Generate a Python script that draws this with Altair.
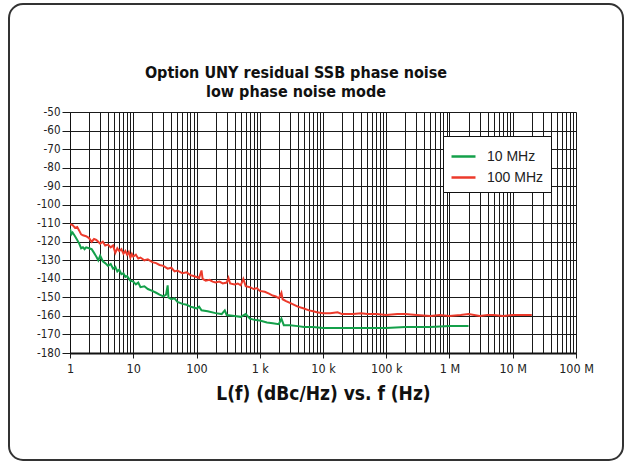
import altair as alt
import pandas as pd

# ---- data ----
red_freq = [1, 1.1, 1.2, 1.3, 1.4, 1.5, 1.6, 1.8, 2.0, 2.2, 2.4, 2.6, 2.8, 3.0, 3.3, 3.6, 4.0, 4.4, 4.8,
            5.2, 5.6, 6.0, 6.5, 7.0, 7.5, 8.0, 8.5, 9.0, 9.5, 10, 11, 12, 13, 15, 17, 20, 23, 26, 30, 35,
            40, 45, 50, 60, 70, 80, 90, 100, 110, 120, 125, 140, 160, 180, 200, 230, 260, 300, 320, 340,
            400, 450, 500, 550, 600, 700, 800, 900, 1000, 1200, 1400, 1600, 1800, 2000, 2200, 2300, 2600,
            3000, 3500, 4000, 5000, 6000, 7000, 8000, 10000, 13000, 17000, 20000, 30000, 40000, 50000,
            70000, 100000, 150000, 200000, 300000, 500000, 700000, 1e6, 1.5e6, 2e6, 3e6, 4e6, 5e6, 7e6,
            1e7, 1.5e7, 2e7]
red_level = [-110.5, -111, -112.5, -112, -114, -116, -116.5, -117, -118, -120, -118.5, -119, -120, -121,
             -120, -122, -121.5, -123, -122, -126, -123.5, -125, -124, -126.5, -125, -127, -125.5, -128.5,
             -126.5, -128, -127, -129, -128.5, -130, -129.5, -131, -131.5, -132.5, -133, -134.5, -134,
             -136, -135.5, -137, -136.5, -138, -138.5, -139, -139.5, -135.5, -140, -141, -140.5, -141.5,
             -142, -141.5, -142.5, -142, -139.5, -142.5, -143, -142.5, -143.5, -140, -144, -144.5, -145.5,
             -145, -146.5, -147, -148, -149, -149.5, -150.5, -147.5, -151, -152, -153, -154, -155, -156,
             -157, -157.5, -158, -158.5, -158.5, -158, -159, -159, -158.5, -159, -159, -159.5, -159, -159,
             -159.5, -160, -159.5, -160, -159.5, -159, -160, -159.5, -159.5, -160, -159.5, -159.5, -159.5]

green_freq = [1, 1.05, 1.1, 1.2, 1.3, 1.4, 1.5, 1.6, 1.7, 1.8, 2.0, 2.2, 2.4, 2.6, 2.8, 3.0, 3.3, 3.6,
              4.0, 4.4, 4.8, 5.2, 5.6, 6.0, 6.5, 7.0, 7.5, 8.0, 9.0, 10, 11, 12, 13, 15, 17, 20, 23, 26,
              30, 33, 35, 36, 40, 45, 50, 60, 70, 80, 90, 100, 110, 120, 150, 200, 250, 280, 300, 400,
              500, 600, 700, 800, 1000, 1300, 1600, 2000, 2200, 2400, 3000, 4000, 5000, 7000, 10000,
              20000, 50000, 100000, 200000, 500000, 1e6, 2e6]
green_level = [-113, -116, -115, -117, -119, -121, -123.5, -123, -124, -123, -123.5, -124, -126, -128,
               -130, -127.5, -130.5, -131.5, -133, -132, -134.5, -133.5, -136, -135, -137.5, -137, -139,
               -138.5, -141, -141.5, -143, -142, -144.5, -144, -145.5, -146.5, -147.5, -148.5, -149.5,
               -148.5, -143.5, -150, -151, -150.5, -152.5, -153.5, -154, -155, -155.5, -156, -155,
               -157, -157.5, -158.5, -159, -157, -159.5, -160, -160.5, -159, -161.5, -162, -162.5,
               -163.5, -164, -164.5, -161.5, -165, -165, -165.5, -166, -166, -166.5, -166.5, -166.5,
               -166.5, -166, -166, -165.5, -165.5]

series_names = ["10 MHz", "100 MHz"]
series_colors = ["#14a04a", "#ec3a2b"]

x_tick_values = [m * 10 ** d for d in range(0, 8) for m in range(1, 10)] + [10 ** 8]
decades = [10 ** d for d in range(0, 9)]
y_tick_values = list(range(-180, -49, 10))

df = pd.concat([
    pd.DataFrame({"freq": green_freq, "level": green_level, "series": series_names[0]}),
    pd.DataFrame({"freq": red_freq, "level": red_level, "series": series_names[1]}),
])

NARROW = "DejaVu Sans Condensed, sans-serif"
REG = "Liberation Sans, Arial, sans-serif"

dec_list = "[" + ",".join(str(d) for d in decades) + "]"
is_dec = f"indexof({dec_list}, datum.value) >= 0"
label_expr = (f"{is_dec} ? (datum.value >= 1e6 ? (datum.value/1e6) + ' M' : "
              f"datum.value >= 1e3 ? (datum.value/1e3) + ' k' : datum.value + '') : ''")

W, H = 506, 241

frame = alt.Chart(pd.DataFrame({"a": [0]})).mark_rect(
    fill="transparent", stroke="#333333", strokeWidth=2, cornerRadius=14
).encode(
    x=alt.value(-61), x2=alt.value(553), y=alt.value(-108), y2=alt.value(348)
)

lines = alt.Chart(df).mark_line(strokeWidth=2, clip=True).encode(
    x=alt.X("freq:Q",
            scale=alt.Scale(type="log", domain=[1, 1e8], nice=False),
            axis=alt.Axis(values=x_tick_values, labelExpr=label_expr, grid=True,
                          gridColor="#1a1a1a", gridWidth=1, gridOpacity=1,
                          tickColor="#1a1a1a", tickSize=5,
                          tickOpacity={"condition": {"test": is_dec, "value": 1}, "value": 0},
                          domainColor="#111111", domainWidth=2,
                          labelFont=NARROW, labelFontSize=12.5, labelColor="#222222",
                          labelOverlap=False, labelPadding=4, labelBound=False, labelFlush=False,
                          title="L(f) (dBc/Hz) vs. f (Hz)", titleFont=NARROW, titleFontSize=19,
                          titleFontWeight="bold", titleColor="#111111", titlePadding=10)),
    y=alt.Y("level:Q",
            scale=alt.Scale(domain=[-180, -50], nice=False, zero=False),
            axis=alt.Axis(values=y_tick_values, labelExpr="datum.value + ''", grid=True,
                          gridColor="#1a1a1a", gridWidth=1,
                          gridOpacity=1, tickColor="#1a1a1a", tickSize=8,
                          domainColor="#111111", domainWidth=1,
                          labelFont=NARROW, labelFontSize=11.5, labelColor="#222222",
                          labelPadding=2, title=None)),
    color=alt.Color("series:N",
                    scale=alt.Scale(domain=series_names, range=series_colors),
                    legend=alt.Legend(title=None, orient="none", legendX=373, legendY=24,
                                      symbolType="stroke", symbolSize=576, symbolStrokeWidth=2.5,
                                      labelFont=REG, labelFontSize=14, labelColor="#222222",
                                      fillColor="white", strokeColor="#111111", padding=7,
                                      rowPadding=-5, labelOffset=10)),
)

chart = alt.layer(frame, lines).properties(
    width=W, height=H,
    autosize=alt.AutoSizeParams(type="none"),
    padding={"left": 70, "top": 112, "right": 50, "bottom": 109},
    title=alt.TitleParams(["Option UNY residual SSB phase noise", "low phase noise mode"],
                          font=NARROW, fontSize=16, fontWeight="bold", color="#111111",
                          anchor="middle", frame="group", dx=-27, offset=-97, lineHeight=19),
).configure_view(stroke=None).configure(background="white")

chart.save("out.html", embed_options={"renderer": "svg", "actions": False})
